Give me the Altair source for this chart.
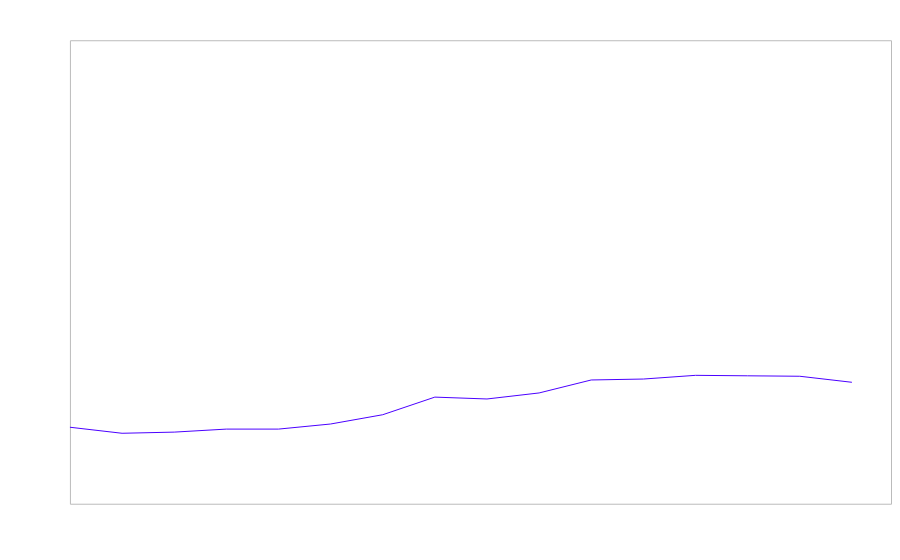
import altair as alt
import pandas as pd

idx = list(range(16))
values = [16.5, 15.2, 15.45, 16.1, 16.1, 17.2, 19.2, 23.0, 22.6, 23.9, 26.7, 26.9, 27.7, 27.6, 27.5, 26.2]

df = pd.DataFrame({"i": idx, "v": values})

chart = alt.Chart(df).mark_line(color="#4a00ff", strokeWidth=1).encode(
    x=alt.X("i:Q", axis=None, scale=alt.Scale(domain=[0, 15.75], nice=False, zero=False)),
    y=alt.Y("v:Q", axis=None, scale=alt.Scale(domain=[0, 100], nice=False)),
).properties(
    width=822, height=464,
    padding={"left": 62, "top": 32, "right": 1, "bottom": 1},
    autosize=alt.AutoSizeParams(type="none"),
).configure_view(stroke="#bbbbbb", strokeWidth=1)

chart.save("out.html", embed_options={"renderer": "svg", "actions": False})
